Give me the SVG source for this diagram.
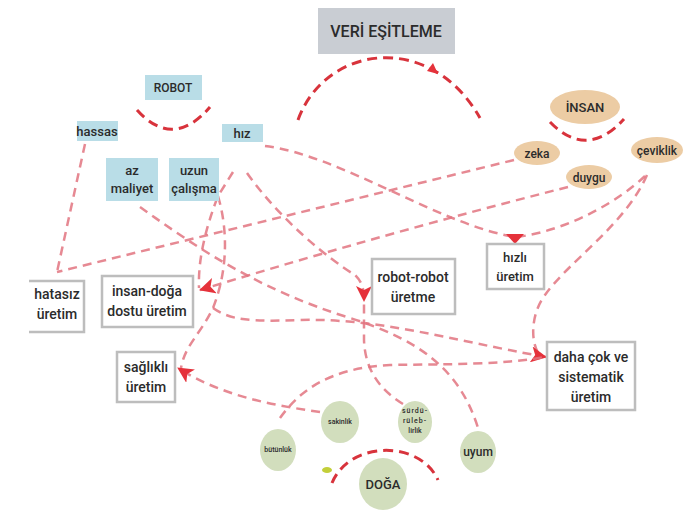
<svg xmlns="http://www.w3.org/2000/svg" width="693" height="511" viewBox="0 0 693 511">
<defs>
<style>
text{font-family:Roboto,"Liberation Sans",sans-serif;font-weight:500;fill:#2b2b2b;text-anchor:middle}
.blue{fill:#b9dde7}
.box{fill:#fff;stroke:#bdbdbd;stroke-width:2.5}
.tan{fill:#eccca4}
.green{fill:#d2debd}
.arc{fill:none;stroke:#d8333c;stroke-width:3;stroke-dasharray:10 6}
.con{fill:none;stroke:#e27480;stroke-opacity:0.85;stroke-width:2.5;stroke-dasharray:9 6}
.head{fill:#e5323b}
</style>
<marker id="ah" viewBox="0 0 16 16" refX="15" refY="8" markerWidth="16" markerHeight="16" markerUnits="userSpaceOnUse" orient="auto">
<path d="M0,0 L16,8 L0,16 L4,8 Z" class="head"/>
</marker>
</defs>
<rect width="693" height="511" fill="#fff"/>

<g id="arcs">
<path class="arc" d="M298,120 C325,45 430,30 480,118"/>
<polygon class="head" points="438,74 427,71 433,63"/>
<path class="arc" d="M137,110 Q173,150 210,107"/>
<path class="arc" d="M550,122 Q587,160 624,119"/>
<path class="arc" d="M332,483 C350,440 420,440 438,480"/>
</g>

<g id="connectors">
<path class="con" d="M85,144 L57,272"/>
<path class="con" d="M514,160 L57,272"/>
<path class="con" d="M568,187 Q390,232 200,290" marker-end="url(#ah)"/>
<path class="con" d="M265,146 C340,155 440,225 515,237"/>
<path class="con" d="M645,176 C620,200 570,230 517,237"/>
<polygon class="head" points="506,234 524,234 515,244"/>
<path class="con" d="M647,175 C625,225 570,260 545,295 C530,315 530,345 541,357"/>
<path class="con" d="M140,207 C200,250 260,290 350,318 C420,340 460,370 478,428"/>
<path class="con" d="M233,172 L218,196 C205,230 198,260 199,288"/>
<path class="con" d="M218,196 C228,230 228,270 213,308 C200,335 185,345 181,368"/>
<path class="con" d="M213,308 C230,320 250,322 300,320 C380,318 450,340 546,357" marker-end="url(#ah)"/>
<path class="con" d="M247,173 C280,220 330,260 355,275 C362,282 364,288 364,301" marker-end="url(#ah)"/>
<path class="con" d="M403,404 C380,390 365,370 364,340 L364,302"/>
<path class="con" d="M280,418 C300,390 330,368 390,365 C450,364 500,365 545,357"/>
<path class="con" d="M320,412 C270,405 220,395 178,368" marker-end="url(#ah)"/>
</g>

<g id="veri"><rect x="318" y="8" width="137" height="46" fill="#c9cdd3"/><text x="386" y="37" font-size="16">VERİ EŞİTLEME</text></g>
<g id="robot"><rect class="blue" x="145" y="75" width="57" height="25"/><text x="173" y="92" font-size="12">ROBOT</text></g>
<g id="hassas"><rect class="blue" x="77" y="121" width="41" height="20"/><text x="97" y="136" font-size="13">hassas</text></g>
<g id="hiz"><rect class="blue" x="222" y="124" width="41" height="18"/><text x="242" y="138" font-size="13">hız</text></g>
<g id="azmaliyet"><rect class="blue" x="106" y="158" width="52" height="43"/><text x="132" y="175" font-size="13">az</text><text x="132" y="193" font-size="13">maliyet</text></g>
<g id="uzun"><rect class="blue" x="169" y="158" width="50" height="43"/><text x="194" y="175" font-size="13">uzun</text><text x="194" y="193" font-size="13">çalışma</text></g>

<g id="insan"><ellipse class="tan" cx="585" cy="107" rx="35" ry="17"/><text x="585" y="112" font-size="13">İNSAN</text></g>
<g id="zeka"><ellipse class="tan" cx="537" cy="153" rx="23" ry="12"/><text x="537" y="158" font-size="12">zeka</text></g>
<g id="ceviklik"><ellipse class="tan" cx="657" cy="150" rx="26" ry="13"/><text x="657" y="155" font-size="12">çeviklik</text></g>
<g id="duygu"><ellipse class="tan" cx="589" cy="177" rx="23" ry="12"/><text x="589" y="182" font-size="12">duygu</text></g>

<g id="hatasiz"><rect x="29" y="281" width="55" height="51" fill="#fff"/><path d="M29,281 H84 V332 H29" fill="none" stroke="#bdbdbd" stroke-width="2.5"/><text x="57" y="299" font-size="14">hatasız</text><text x="57" y="319" font-size="14">üretim</text></g>
<g id="insandoga"><rect class="box" x="102" y="276" width="91" height="51"/><text x="147" y="296" font-size="14">insan-doğa</text><text x="147" y="316" font-size="14">dostu üretim</text></g>
<g id="saglikli"><rect class="box" x="117" y="352" width="58" height="50"/><text x="146" y="372" font-size="14">sağlıklı</text><text x="146" y="392" font-size="14">üretim</text></g>
<g id="robotrobot"><rect class="box" x="372" y="259" width="83" height="55"/><text x="413" y="282" font-size="14">robot-robot</text><text x="413" y="302" font-size="14">üretme</text></g>
<g id="hizli"><rect class="box" x="487" y="244" width="57" height="45"/><text x="515" y="262" font-size="13">hızlı</text><text x="515" y="281" font-size="13">üretim</text></g>
<g id="dahacok"><rect class="box" x="547" y="342" width="88" height="68"/><text x="591" y="362" font-size="14">daha çok ve</text><text x="591" y="382" font-size="14">sistematik</text><text x="591" y="402" font-size="14">üretim</text></g>

<g id="butunluk"><ellipse class="green" cx="278" cy="450" rx="18" ry="21"/><text x="278" y="452" font-size="7">bütünlük</text></g>
<g id="sakinlik"><ellipse class="green" cx="340" cy="422" rx="19" ry="21"/><text x="340" y="424" font-size="7">sakinlik</text></g>
<g id="surdurulebilirlik"><ellipse class="green" cx="415" cy="422" rx="17" ry="21"/><text x="415" y="413" font-size="7" letter-spacing="1">sürdü-</text><text x="415" y="423" font-size="7" letter-spacing="1">rüleb-</text><text x="415" y="433" font-size="7">lirlik</text></g>
<g id="uyum"><ellipse class="green" cx="478" cy="452" rx="18" ry="21"/><text x="478" y="456" font-size="12">uyum</text></g>
<g id="doga"><ellipse class="green" cx="383" cy="484" rx="24" ry="26"/><text x="383" y="489" font-size="13">DOĞA</text></g>
<ellipse cx="327" cy="470" rx="5" ry="3" fill="#c3cf3a"/>
</svg>
